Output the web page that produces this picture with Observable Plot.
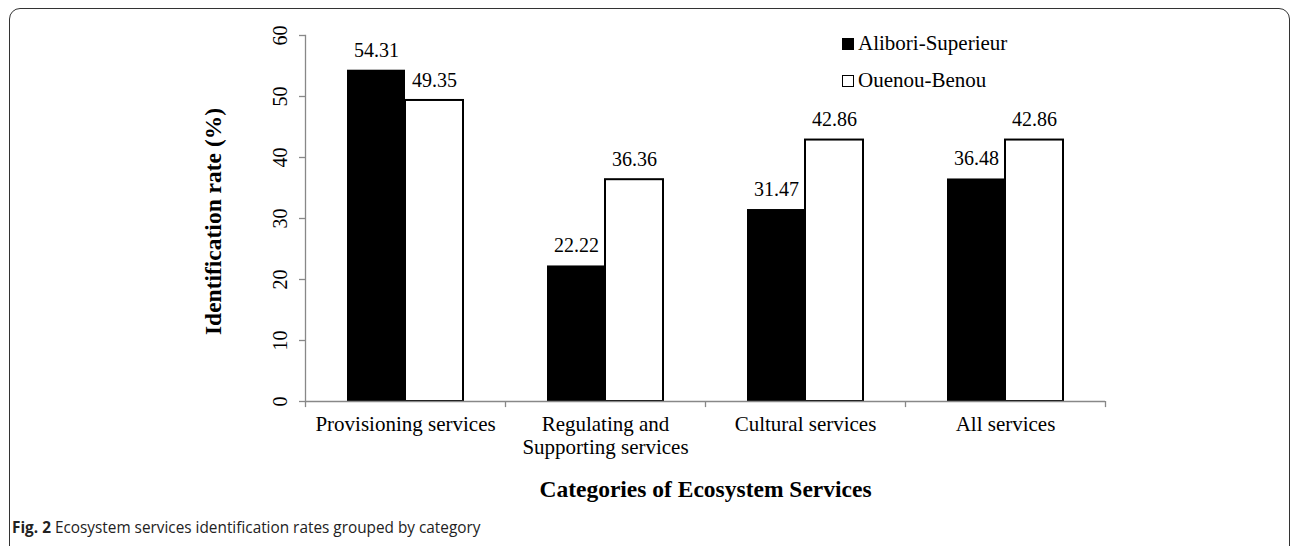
<!DOCTYPE html>
<html><head><meta charset="utf-8">
<script src="https://cdn.jsdelivr.net/npm/d3@7"></script>
<script src="https://cdn.jsdelivr.net/npm/@observablehq/plot@0.6"></script>
<style>
body{margin:0;background:#fff;}
#wrap{position:relative;width:1290px;height:546px;overflow:hidden;background:#fff;}
#frame{position:absolute;left:9px;top:8px;width:1281px;height:560px;border:1.5px solid #333;border-radius:11px;box-sizing:border-box;}
#chart{position:absolute;left:0;top:0;}
#legend{position:absolute;left:842px;top:25px;font-family:"Liberation Serif",serif;font-size:21px;color:#000;}
.row{display:flex;align-items:center;height:37px;}
.sw{width:12px;height:12px;box-sizing:border-box;margin-right:4px;}
#caption{position:absolute;left:12px;top:515px;font-family:"Open Sans",sans-serif;font-size:16.5px;color:#222;white-space:nowrap;transform:scaleX(0.93);transform-origin:left center;}
</style>
</head><body>
<div id="wrap"><div id="frame"></div><div id="chart"></div><div id="legend"></div><div id="caption"><b>Fig. 2</b> Ecosystem services identification rates grouped by category</div></div>
<script>
const categories = ["Provisioning services", "Regulating and Supporting services", "Cultural services", "All services"];
const tickLabels = ["Provisioning services", "Regulating and\nSupporting services", "Cultural services", "All services"];
const series = ["Alibori-Superieur", "Ouenou-Benou"];
const alibori = [54.31, 22.22, 31.47, 36.48];
const ouenou = [49.35, 36.36, 42.86, 42.86];
const yTicks = [0, 10, 20, 30, 40, 50, 60];
const colors = ["#000", "#fff"];

const data = categories.flatMap((c, i) => [
  {category: c, series: series[0], value: alibori[i]},
  {category: c, series: series[1], value: ouenou[i]}
]);
const A = data.filter(d => d.series === series[0]);
const B = data.filter(d => d.series === series[1]);
const labelOf = Object.fromEntries(categories.map((c, i) => [c, tickLabels[i]]));

const chart = Plot.plot({
  width: 1290, height: 505,
  marginLeft: 305, marginRight: 185, marginTop: 35, marginBottom: 104,
  style: {fontFamily: "Liberation Serif, serif", fontSize: "20px", color: "#000", background: "transparent"},
  x: {domain: categories, padding: 0, axis: null},
  y: {domain: [0, 60], axis: null},
  marks: [
    Plot.frame({anchor: "left", stroke: "#888", strokeWidth: 1.3}),
    Plot.axisY(yTicks, {tickSize: 6, tickFormat: () => "", label: null, stroke: "#888", strokeWidth: 1.3}),
    Plot.text(yTicks, {y: d => d, text: d => String(d), frameAnchor: "left", textAnchor: "middle", dx: -25, rotate: -90, fontSize: 20}),
    Plot.barY(A, {x: "category", y: "value", fill: colors[0], insetLeft: 42, insetRight: 100}),
    Plot.barY(B, {x: "category", y: "value", fill: colors[1], stroke: "#000", strokeWidth: 2, insetLeft: 100, insetRight: 42}),
    Plot.ruleY([0], {stroke: "#888", strokeWidth: 1.3}),
    Plot.ruleX(categories, {x: d => d, y1: 0, y2: -1, dx: -100, stroke: "#888", strokeWidth: 1.3}),
    Plot.ruleX(categories.slice(-1), {x: d => d, y1: 0, y2: -1, dx: 100, stroke: "#888", strokeWidth: 1.3}),
    Plot.axisX({tickSize: 0, tickPadding: 13, tickFormat: d => labelOf[d], lineHeight: 1.1, fontSize: 21, label: null}),
    Plot.text(A, {x: "category", y: "value", text: d => d.value.toFixed(2), dx: -29, dy: -20, fontSize: 20}),
    Plot.text(B, {x: "category", y: "value", text: d => d.value.toFixed(2), dx: 29, dy: -20, fontSize: 20}),
    Plot.text(["Identification rate (%)"], {frameAnchor: "left", textAnchor: "middle", dx: -92, dy: 3, rotate: -90, fontWeight: "bold", fontSize: 23.5}),
    Plot.text(["Categories of Ecosystem Services"], {frameAnchor: "bottom", dy: 95, fontWeight: "bold", fontSize: 23.5})
  ]
});
document.getElementById("chart").appendChild(chart);

const legend = document.getElementById("legend");
series.forEach((s, i) => {
  const row = document.createElement("div");
  row.className = "row";
  const sw = document.createElement("span");
  sw.className = "sw";
  sw.style.background = colors[i];
  sw.style.border = "1.5px solid #000";
  row.appendChild(sw);
  row.appendChild(document.createTextNode(s));
  legend.appendChild(row);
});
</script>
</body></html>
